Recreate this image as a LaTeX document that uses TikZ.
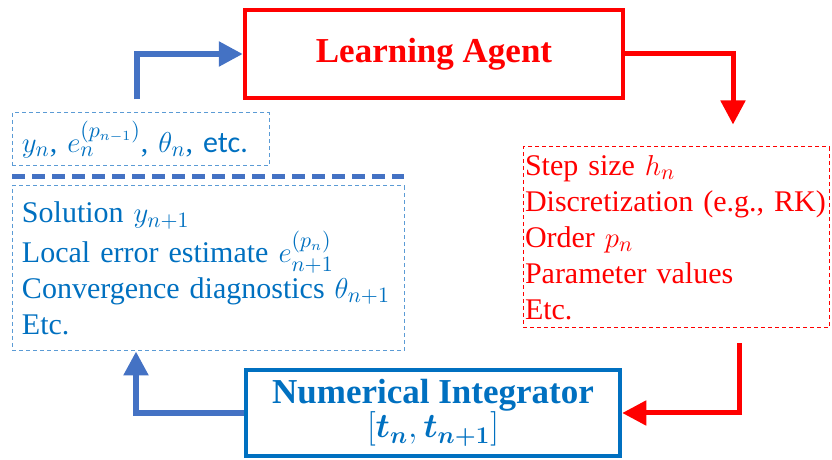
\documentclass[tikz,border=0pt]{standalone}
\usepackage{amssymb}
\usepackage{amsmath}
\usepackage{fontspec}
\setmainfont{Liberation Serif}
\newfontfamily\etcfont{Carlito}
\usetikzlibrary{shapes,arrows.meta}
\definecolor{agentred}{RGB}{255,0,0}
\definecolor{integblue}{RGB}{0,112,192}
\definecolor{arrowblue}{RGB}{68,114,196}
\definecolor{boxblue}{RGB}{91,155,213}
\tikzstyle{block} = [rectangle, draw, line width=2.25pt, align=center,
inner sep=0pt, font=\fontsize{17.5}{17}\selectfont\bfseries]
\tikzstyle{agentblock} = [block, draw=agentred, text=agentred,
minimum width=189pt, minimum height=44pt]
\tikzstyle{integblock} = [block, draw=integblue, text=integblue,
minimum width=187pt, minimum height=43pt]
\tikzstyle{infobox} = [rectangle, draw, line width=0.5pt, dash pattern=on 2pt off 1.5pt,
align=left, inner xsep=5pt, inner ysep=0pt, font=\fontsize{15}{18}\selectfont]
\tikzstyle{bluebox} = [infobox, draw=boxblue, text=integblue]
\tikzstyle{redbox} = [infobox, agentred, inner xsep=1pt]
\tikzstyle{bline} = [draw, arrowblue, line width=2.75pt, -{Triangle[length=12pt,width=12pt]}]
\tikzstyle{rline} = [draw, agentred, line width=2.5pt, -{Triangle[length=12pt,width=12pt]}]
\tikzstyle{sepline} = [draw, arrowblue, line width=2.5pt, dash pattern=on 6.5pt off 3.5pt]

\begin{document}
\begin{tikzpicture}[x=0.5pt, y=-0.5pt]
\useasboundingbox (0,0) rectangle (832,460);

% Place nodes
\node [agentblock] (agent) at (434,54) {Learning Agent};
\node [integblock] (integ) at (433,413) {Numerical Integrator\\ $[\boldsymbol{t_n},\boldsymbol{t_{n+1}}]$};
\node [bluebox, minimum width=128.5pt, minimum height=26.5pt, text width=118.5pt] (state) at (140.5,139.5)
{$y_n$, $e_n^{(p_{n-1})}$, $\theta_n$, {\etcfont etc.}};
\node [bluebox, minimum height=82.5pt, text width=186pt] (result) at (208,268.5)
{Solution $y_{n+1}$\\ Local error estimate $e^{(p_n)}_{n+1}$\\ Convergence diagnostics $\theta_{n+1}$\\ Etc.};
\node [redbox, minimum height=90.5pt, text width=151pt] (action) at (676,237.5)
{Step size $h_n$\\ Discretization (e.g., RK)\\ Order $p_n$\\ Parameter values\\ Etc.};
\coordinate (sepL) at (12,177);
\coordinate (sepR) at (404,177);
% Draw edges
\path [bline] ([xshift=-1.75pt,yshift=6.5pt]state.north) |- (agent.west);
\path [rline] (agent.east) -| ([xshift=28.5pt,yshift=11pt]action.north);
\path [rline] ([xshift=31.5pt,yshift=-7.5pt]action.south) |- (integ.east);
\path [bline] (integ.west) -| ([xshift=-36pt]result.south);
\path [sepline] (sepL) -- (sepR);
\end{tikzpicture}
\end{document}
